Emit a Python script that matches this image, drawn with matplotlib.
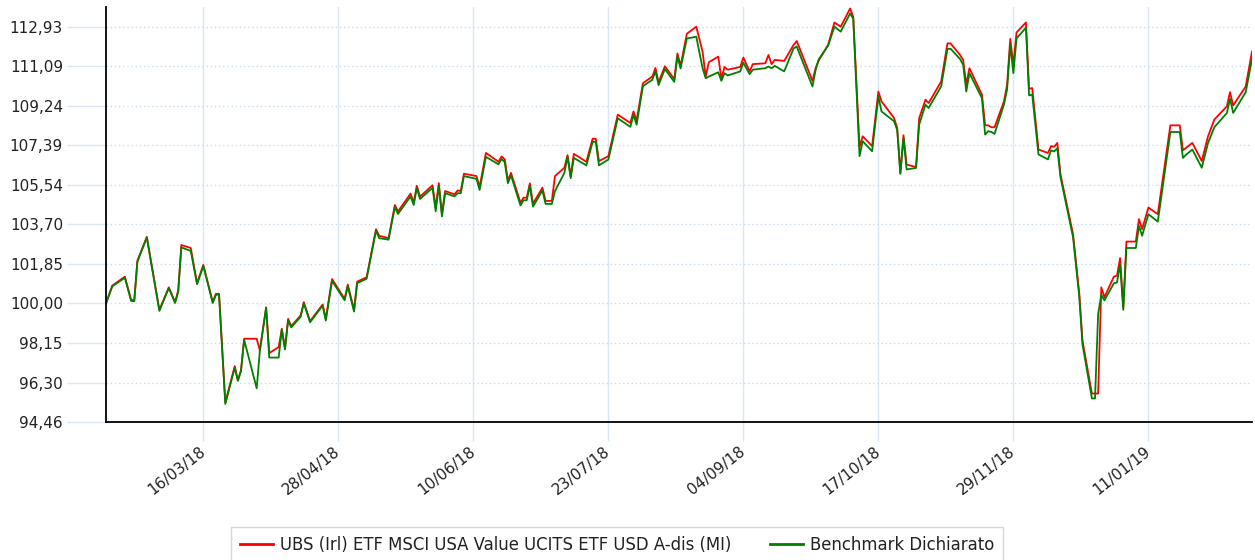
import matplotlib
matplotlib.use('Agg')
import matplotlib.pyplot as plt
import pandas as pd

# Dates (approximate trading days)
dates = [
    '2018-02-13', '2018-02-15', '2018-02-19', '2018-02-21', '2018-02-22', '2018-02-23', '2018-02-26',
    '2018-03-02', '2018-03-05', '2018-03-07', '2018-03-08', '2018-03-09', '2018-03-12', '2018-03-14',
    '2018-03-16', '2018-03-19', '2018-03-20', '2018-03-21', '2018-03-23', '2018-03-26', '2018-03-27',
    '2018-03-28', '2018-03-29',
    '2018-04-02', '2018-04-03', '2018-04-05', '2018-04-06', '2018-04-09', '2018-04-10', '2018-04-11',
    '2018-04-12', '2018-04-13', '2018-04-16', '2018-04-17', '2018-04-19', '2018-04-23', '2018-04-24',
    '2018-04-26', '2018-04-30',
    '2018-05-01', '2018-05-03', '2018-05-04', '2018-05-07', '2018-05-10', '2018-05-11', '2018-05-14',
    '2018-05-16', '2018-05-17', '2018-05-21', '2018-05-22', '2018-05-23', '2018-05-24', '2018-05-28',
    '2018-05-29', '2018-05-30', '2018-05-31',
    '2018-06-01', '2018-06-04', '2018-06-05', '2018-06-06', '2018-06-07', '2018-06-11', '2018-06-12',
    '2018-06-14', '2018-06-18', '2018-06-19', '2018-06-20', '2018-06-21', '2018-06-22', '2018-06-25',
    '2018-06-26', '2018-06-27', '2018-06-28', '2018-06-29',
    '2018-07-02', '2018-07-03', '2018-07-05', '2018-07-06', '2018-07-09', '2018-07-10', '2018-07-11',
    '2018-07-12', '2018-07-16', '2018-07-18', '2018-07-19', '2018-07-20', '2018-07-23', '2018-07-26',
    '2018-07-30', '2018-07-31',
    '2018-08-01', '2018-08-03', '2018-08-06', '2018-08-07', '2018-08-08', '2018-08-10', '2018-08-13',
    '2018-08-14', '2018-08-15', '2018-08-17', '2018-08-20', '2018-08-22', '2018-08-23', '2018-08-24',
    '2018-08-27', '2018-08-28', '2018-08-29', '2018-08-30',
    '2018-09-03', '2018-09-04', '2018-09-06', '2018-09-07', '2018-09-11', '2018-09-12', '2018-09-13',
    '2018-09-14', '2018-09-17', '2018-09-20', '2018-09-21', '2018-09-26', '2018-09-27', '2018-09-28',
    '2018-10-01', '2018-10-03', '2018-10-05', '2018-10-08', '2018-10-09', '2018-10-11', '2018-10-12',
    '2018-10-15', '2018-10-17', '2018-10-18', '2018-10-22', '2018-10-23', '2018-10-24', '2018-10-25',
    '2018-10-26', '2018-10-29', '2018-10-30',
    '2018-11-01', '2018-11-02', '2018-11-06', '2018-11-08', '2018-11-09', '2018-11-12', '2018-11-13',
    '2018-11-14', '2018-11-15', '2018-11-19', '2018-11-20', '2018-11-21', '2018-11-22', '2018-11-23',
    '2018-11-26', '2018-11-27', '2018-11-28', '2018-11-29', '2018-11-30',
    '2018-12-03', '2018-12-04', '2018-12-05', '2018-12-07', '2018-12-10', '2018-12-11', '2018-12-12',
    '2018-12-13', '2018-12-14', '2018-12-18', '2018-12-20', '2018-12-21', '2018-12-24', '2018-12-25',
    '2018-12-26', '2018-12-27', '2018-12-28', '2018-12-31',
    '2019-01-01', '2019-01-02', '2019-01-03', '2019-01-04', '2019-01-07', '2019-01-08', '2019-01-09',
    '2019-01-11', '2019-01-14', '2019-01-18', '2019-01-21', '2019-01-22', '2019-01-23', '2019-01-25',
    '2019-01-28', '2019-01-30',
    '2019-02-01', '2019-02-05', '2019-02-06', '2019-02-07', '2019-02-11', '2019-02-13',
]

# UBS fund (red)
fund = [
    100.00, 100.83, 101.25, 100.17, 100.14, 102.00, 103.11,
    99.70, 100.75, 100.06, 100.60, 102.73, 102.59, 100.94, 101.80, 100.06, 100.45, 100.45, 95.38, 97.07,
    96.41, 96.88, 98.35,
    98.35, 97.81, 99.82, 97.68, 97.96, 98.82, 97.89, 99.28, 98.94, 99.44, 100.06, 99.17, 99.95, 99.28,
    101.14, 100.21,
    100.88, 99.70, 101.02, 101.22, 103.47, 103.16, 103.05, 104.60, 104.30, 105.13, 104.71, 105.50, 104.99,
    105.52, 104.48, 105.62, 104.17,
    105.25, 105.10, 105.28, 105.25, 106.06, 105.95, 105.44, 107.03, 106.62, 106.87, 106.73, 105.75, 106.10,
    104.71, 104.94, 104.94, 105.61, 104.66,
    105.41, 104.79, 104.79, 105.95, 106.34, 106.93, 105.95, 106.99, 106.62, 107.70, 107.69, 106.65, 106.88,
    108.82, 108.43, 108.97,
    108.54, 110.29, 110.60, 111.00, 110.33, 111.08, 110.48, 111.68, 111.10, 112.60, 112.93, 111.77, 110.60,
    111.27, 111.53, 110.50, 111.05, 110.92,
    111.05, 111.49, 110.84, 111.18, 111.22, 111.61, 111.18, 111.38, 111.33, 112.08, 112.26, 110.40, 110.99,
    111.35,
    112.08, 113.13, 112.93, 113.78, 113.39, 107.30, 107.81, 107.35, 109.90, 109.44, 108.66, 108.20, 106.10,
    107.86, 106.49, 106.37, 108.66,
    109.52, 109.36, 110.37, 112.15, 112.15, 111.61, 111.38, 110.22, 110.99, 109.75, 108.32, 108.32, 108.23,
    108.23, 109.44, 110.22, 112.36, 111.15, 112.66,
    113.13, 110.03, 110.06, 107.19, 107.03, 107.35, 107.32, 107.50, 106.03, 103.24, 100.45, 98.27, 95.79,
    95.79, 95.79, 100.75, 100.29, 101.25,
    101.30, 102.12, 99.82, 102.89, 102.89, 103.94, 103.47, 104.48, 104.17, 108.32, 108.32, 107.15, 107.27,
    107.50, 106.65, 107.81,
    108.59, 109.21, 109.87, 109.25, 110.14, 111.77,
]

# Benchmark (green)
bench = [
    100.00, 100.80, 101.20, 100.12, 100.10, 101.95, 103.08,
    99.65, 100.72, 100.02, 100.55, 102.62, 102.45, 100.90, 101.75, 100.02, 100.40, 100.42, 95.30, 97.00,
    96.38, 96.85, 98.30,
    96.03, 97.78, 99.80, 97.47, 97.47, 98.78, 97.85, 99.20, 98.88, 99.38, 100.00, 99.12, 99.90, 99.20,
    101.05, 100.15,
    100.80, 99.62, 100.95, 101.15, 103.40, 103.05, 102.98, 104.50, 104.18, 105.00, 104.60, 105.40, 104.88,
    105.40, 104.30, 105.50, 104.06,
    105.15, 105.00, 105.15, 105.15, 105.95, 105.82, 105.30, 106.85, 106.50, 106.75, 106.60, 105.62, 105.98,
    104.58, 104.82, 104.82, 105.50, 104.52,
    105.28, 104.65, 104.65, 105.25, 106.10, 106.85, 105.85, 106.80, 106.45, 107.55, 107.55, 106.45, 106.72,
    108.65, 108.25, 108.80,
    108.35, 110.15, 110.45, 110.85, 110.20, 110.95, 110.35, 111.55, 110.98, 112.38, 112.46, 111.00, 110.52,
    110.60, 110.80, 110.40, 110.76, 110.65,
    110.84, 111.25, 110.71, 110.92, 110.99, 111.07, 110.99, 111.10, 110.84, 111.92, 112.00, 110.14, 110.90,
    111.40,
    112.05, 112.93, 112.70, 113.55, 113.30, 106.88, 107.58, 107.11, 109.67, 108.97, 108.51, 108.10, 106.05,
    107.73, 106.26, 106.33, 108.36,
    109.29, 109.13, 110.14, 111.89, 111.90, 111.42, 111.15, 109.90, 110.76, 109.59, 107.89, 108.05, 108.01,
    107.92, 109.29, 110.00, 112.08, 110.76, 112.38,
    112.88, 109.72, 109.76, 106.96, 106.73, 107.15, 107.10, 107.25, 105.90, 103.10, 100.30, 98.10, 95.56,
    95.56, 99.52, 100.40, 100.14, 100.94,
    100.98, 101.84, 99.70, 102.59, 102.59, 103.62, 103.16, 104.17, 103.82, 108.01, 108.01, 106.80, 106.95,
    107.19, 106.34, 107.50,
    108.23, 108.90, 109.56, 108.90, 109.87, 111.42,
]

xtick_labels = ['16/03/18', '28/04/18', '10/06/18', '23/07/18', '04/09/18', '17/10/18', '29/11/18', '11/01/19']
ytick_labels = ['94,46', '96,30', '98,15', '100,00', '101,85', '103,70', '105,54', '107,39',
                '109,24', '111,09', '112,93']

fund_name = 'UBS (Irl) ETF MSCI USA Value UCITS ETF USD A-dis (MI)'
bench_name = 'Benchmark Dichiarato'

x = pd.to_datetime(dates)
grid_blue = '#dbe7f5'

fig = plt.figure(figsize=(12.55, 5.6), dpi=100)
ax = fig.add_axes([106 / 1255, 1 - 422 / 560, (1252 - 106) / 1255, (422 - 7) / 560])

ax.plot(x, fund, color='#ff0000', lw=1.3, label=fund_name, zorder=3)
ax.plot(x, bench, color='#008000', lw=1.3, label=bench_name, zorder=4)

ax.set_xlim(pd.Timestamp('2018-02-13'), pd.Timestamp('2019-02-13'))
ax.set_ylim(94.46, 113.85)

# y axis: comma decimals, long light-blue ticks, dotted grid
yt = [float(s.replace(',', '.')) for s in ytick_labels]
ax.set_yticks(yt)
ax.set_yticklabels(ytick_labels)
ax.tick_params(axis='y', length=28, width=1, color=grid_blue, pad=3,
               labelsize=11, labelcolor='#222222')
ax.yaxis.grid(True, color='#c9dbf1', linestyle=(0, (1, 2)), lw=1)

# x axis: solid light-blue gridlines and rotated date labels
xt = pd.to_datetime(xtick_labels, format='%d/%m/%y')
ax.set_xticks(xt)
ax.set_xticklabels(xtick_labels, rotation=38, ha='right', va='center', rotation_mode='anchor')
ax.tick_params(axis='x', length=14, width=1, color=grid_blue, pad=6,
               labelsize=11, labelcolor='#222222')
ax.xaxis.grid(True, color=grid_blue, linestyle='-', lw=1)
ax.set_axisbelow(True)

for side in ['top', 'right']:
    ax.spines[side].set_visible(False)
for side in ['left', 'bottom']:
    ax.spines[side].set_color('black')
    ax.spines[side].set_linewidth(1.3)
    ax.spines[side].set_zorder(5)

leg = fig.legend(loc='center', bbox_to_anchor=(617 / 1255, 1 - 545 / 560), ncol=2,
                 fontsize=11.9, frameon=True, fancybox=False, edgecolor='#cccccc',
                 handlelength=2.0, handletextpad=0.45, columnspacing=2.3, borderpad=0.55)
leg.get_frame().set_linewidth(1)
for line in leg.get_lines():
    line.set_linewidth(2)
for t in leg.get_texts():
    t.set_color('#222222')

fig.savefig('out.png', dpi=100, facecolor='white')
